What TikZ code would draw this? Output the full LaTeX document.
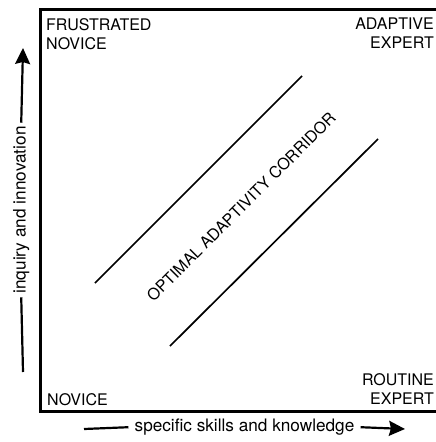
\documentclass[tikz,border=0pt]{standalone}
\usepackage{fontspec}
\setmainfont{TeX Gyre Heros}
\usetikzlibrary{arrows.meta}
\begin{document}
\begin{tikzpicture}[x=1pt,y=1pt,
  corner/.style={inner sep=0pt,font=\fontsize{16}{19}\selectfont},
  axislab/.style={inner sep=0pt,font=\fontsize{17.2}{20}\selectfont,anchor=mid},
  frameline/.style={line width=3pt},
  corrline/.style={line width=1.7pt},
  axisline/.style={line width=2.2pt},
  tip/.style={-{Stealth[length=16pt,width=15pt,inset=2pt]}}]
\useasboundingbox (0,0) rectangle (436,-442);
% frame (right side cut off)
\coordinate (tr) at (438,-9);
\coordinate (tl) at (40,-9);
\coordinate (bl) at (40,-411);
\coordinate (br) at (438,-411);
\draw[frameline] (tr) -- (tl) -- (bl) -- (br);
% corner labels
\node[corner,anchor=north west,align=left] (fn) at (46,-18) {FRUSTRATED\\NOVICE};
\node[corner,anchor=north east,align=right] (ae) at (434,-18) {ADAPTIVE\\EXPERT};
\node[corner,anchor=north east,align=right] (re) at (434,-373) {ROUTINE\\EXPERT};
\node[corner,anchor=north west] (nv) at (47,-393) {NOVICE};
% corridor
\coordinate (u1) at (95,-283);
\coordinate (u2) at (302,-76);
\coordinate (l1) at (170,-346);
\coordinate (l2) at (378,-139);
\draw[corrline] (u1) -- (u2);
\draw[corrline] (l1) -- (l2);
\node[corner,rotate=45] (cor) at (241,-207) {OPTIMAL ADAPTIVITY CORRIDOR};
% y axis
\node[axislab,rotate=90,inner xsep=3.5pt] (ylab) at (23,-210) {inquiry and innovation};
\coordinate (ybot) at (23,-372);
\coordinate (ytop) at (23,-48);
\draw[axisline] (ybot) -- (ylab.west);
\draw[axisline,tip] (ylab.east) -- (ytop);
% x axis
\node[axislab,inner xsep=6pt] (xlab) at (244.5,-429) {specific skills and knowledge};
\coordinate (xl) at (84,-429);
\coordinate (xr) at (405,-429);
\draw[axisline] (xl) -- (xlab.west);
\draw[axisline,tip] (xlab.east) -- (xr);
\end{tikzpicture}
\end{document}
